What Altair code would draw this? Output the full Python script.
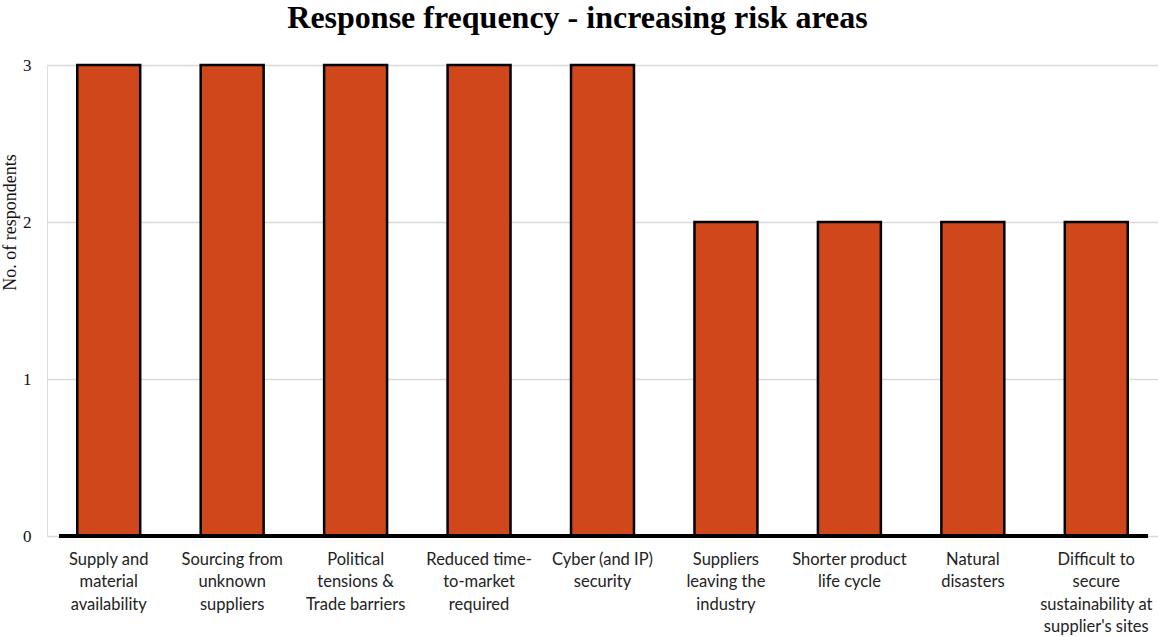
import altair as alt
import pandas as pd

# Risk areas and the number of respondents naming each
categories = [
    "Supply and\nmaterial\navailability",
    "Sourcing from\nunknown\nsuppliers",
    "Political\ntensions &\nTrade barriers",
    "Reduced time-\nto-market\nrequired",
    "Cyber (and IP)\nsecurity",
    "Suppliers\nleaving the\nindustry",
    "Shorter product\nlife cycle",
    "Natural\ndisasters",
    "Difficult to\nsecure\nsustainability at\nsupplier's sites",
]
counts = [3, 3, 3, 3, 3, 2, 2, 2, 2]
y_ticks = [0, 1, 2, 3]

df = pd.DataFrame({"area": categories, "count": counts})

bars = (
    alt.Chart(df)
    .mark_bar(color="#D0471C", stroke="#000000", strokeWidth=2.5)
    .encode(
        x=alt.X(
            "area:N",
            sort=categories,
            title=None,
            scale=alt.Scale(paddingInner=0.49, paddingOuter=0.245),
            axis=alt.Axis(
                labelAngle=0,
                labelExpr="split(datum.label, '\\n')",
                labelFont="Lato",
                labelFontSize=16.5,
                labelColor="#222222",
                labelLineHeight=22.5,
                labelPadding=15,
                labelAlign="center",
                labelBaseline="top",
                ticks=False,
                domain=False,
                grid=False,
            ),
        ),
        y=alt.Y(
            "count:Q",
            scale=alt.Scale(domain=[0, 3], nice=False),
            axis=alt.Axis(
                values=y_ticks,
                format="d",
                title="No. of respondents",
                titleFont="Liberation Serif",
                titleFontSize=18,
                titleFontWeight="normal",
                titleColor="#111111",
                titleAngle=270,
                titleX=-37,
                titleY=157,
                titleAlign="center",
                titleBaseline="middle",
                labelFont="Liberation Serif",
                labelFontSize=17,
                labelColor="#111111",
                labelPadding=16,
                ticks=False,
                domain=False,
                grid=True,
                gridColor="#d9d9d9",
                gridWidth=1.5,
            ),
        ),
    )
)

# Heavy baseline along zero
baseline = (
    alt.Chart(pd.DataFrame({"y": [0]}))
    .mark_rule(color="#000000", strokeWidth=4)
    .encode(y="y:Q", x=alt.value(12), x2=alt.value(1101))
)

chart = (
    alt.layer(bars, baseline)
    .properties(
        width=1111,
        height=471,
        autosize=alt.AutoSizeParams(type="none"),
        padding={"left": 47, "top": 65, "right": 0, "bottom": 101},
        title=alt.TitleParams(
            "Response frequency - increasing risk areas",
            font="Liberation Serif",
            fontSize=32,
            fontWeight="bold",
            color="#000000",
            anchor="middle",
            dx=-25,
            offset=21,
        ),
    )
    .configure_view(stroke=None)
    .configure(background="#ffffff")
)

chart.save("out.html", embed_options={"renderer": "svg", "actions": False})
